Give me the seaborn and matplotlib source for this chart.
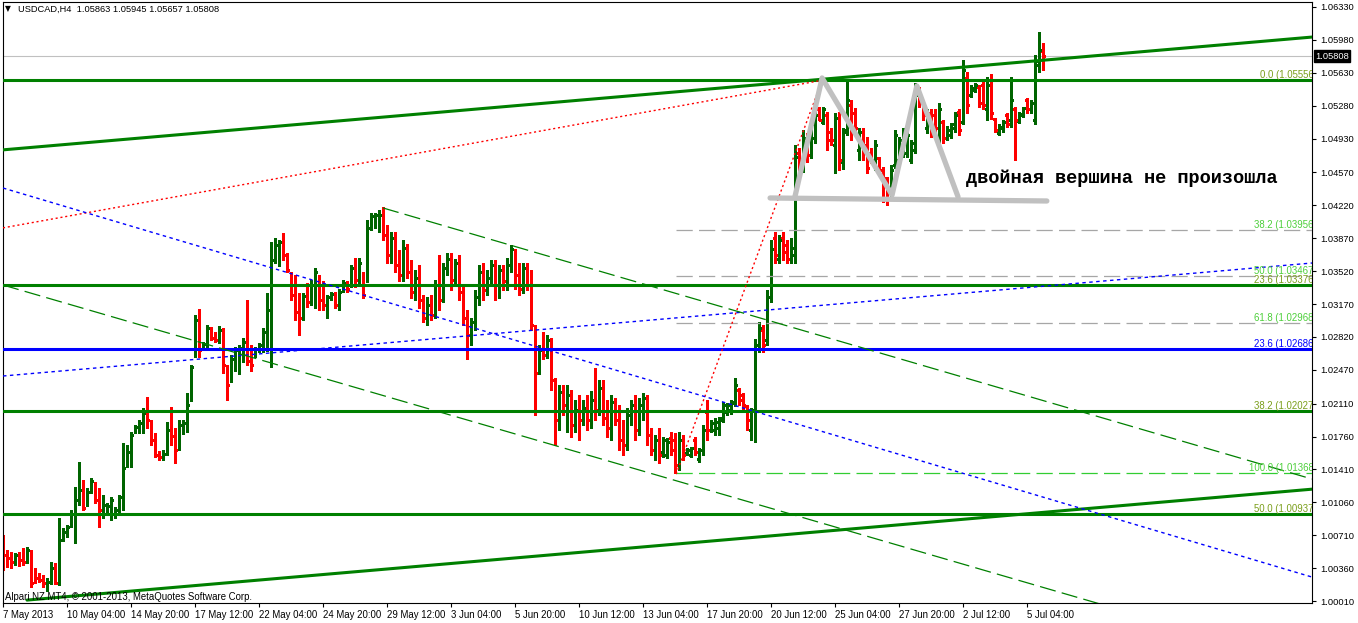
import matplotlib
matplotlib.use("Agg")
import matplotlib.pyplot as plt
import matplotlib.transforms as mtransforms
import seaborn as sns
import pandas as pd
import numpy as np

# USDCAD H4 bars (261 bars, left to right)
opens = [
    1.0066, 1.0053, 1.0050, 1.0041, 1.0051, 1.0055, 1.0045, 1.0053, 1.0032, 1.0029,
    1.0027, 1.0017, 1.0023, 1.0036, 1.0020, 1.0068, 1.0073, 1.0081, 1.0087, 1.0108,
    1.0121, 1.0105, 1.0118, 1.0126, 1.0114, 1.0096, 1.0096, 1.0093, 1.0093, 1.0098,
    1.0107, 1.0149, 1.0162, 1.0181, 1.0185, 1.0185, 1.0202, 1.0191, 1.0176, 1.0160,
    1.0152, 1.0160, 1.0194, 1.0181, 1.0167, 1.0183, 1.0188, 1.0218, 1.0263, 1.0302,
    1.0270, 1.0273, 1.0291, 1.0285, 1.0279, 1.0289, 1.0250, 1.0239, 1.0251, 1.0258,
    1.0260, 1.0273, 1.0270, 1.0263, 1.0268, 1.0268, 1.0273, 1.0279, 1.0365, 1.0361,
    1.0387, 1.0369, 1.0350, 1.0337, 1.0321, 1.0305, 1.0334, 1.0321, 1.0321, 1.0343,
    1.0337, 1.0308, 1.0322, 1.0328, 1.0314, 1.0332, 1.0339, 1.0337, 1.0361, 1.0343,
    1.0348, 1.0343, 1.0398, 1.0400, 1.0398, 1.0414, 1.0393, 1.0365, 1.0387, 1.0361,
    1.0345, 1.0374, 1.0353, 1.0330, 1.0348, 1.0321, 1.0302, 1.0316, 1.0305, 1.0337,
    1.0324, 1.0353, 1.0365, 1.0341, 1.0361, 1.0330, 1.0302, 1.0281, 1.0295, 1.0324,
    1.0353, 1.0332, 1.0343, 1.0359, 1.0333, 1.0353, 1.0337, 1.0355, 1.0369, 1.0351,
    1.0333, 1.0353, 1.0341, 1.0291, 1.0244, 1.0279, 1.0263, 1.0277, 1.0234, 1.0194,
    1.0226, 1.0204, 1.0220, 1.0188, 1.0210, 1.0194, 1.0210, 1.0191, 1.0231, 1.0204,
    1.0231, 1.0204, 1.0185, 1.0213, 1.0202, 1.0185, 1.0167, 1.0196, 1.0213, 1.0185,
    1.0202, 1.0215, 1.0181, 1.0160, 1.0178, 1.0160, 1.0156, 1.0174, 1.0172, 1.0146,
    1.0172, 1.0159, 1.0156, 1.0172, 1.0152, 1.0162, 1.0202, 1.0183, 1.0183, 1.0185,
    1.0196, 1.0202, 1.0204, 1.0212, 1.0226, 1.0220, 1.0208, 1.0183, 1.0204, 1.0273,
    1.0289, 1.0279, 1.0324, 1.0387, 1.0365, 1.0387, 1.0380, 1.0365, 1.0369, 1.0478,
    1.0462, 1.0494, 1.0476, 1.0494, 1.0524, 1.0511, 1.0518, 1.0500, 1.0486, 1.0515,
    1.0468, 1.0502, 1.0529, 1.0520, 1.0481, 1.0500, 1.0486, 1.0478, 1.0465, 1.0472,
    1.0460, 1.0451, 1.0436, 1.0465, 1.0470, 1.0481, 1.0478, 1.0470, 1.0481, 1.0545,
    1.0531, 1.0504, 1.0520, 1.0518, 1.0494, 1.0511, 1.0494, 1.0497, 1.0504, 1.0521,
    1.0511, 1.0557, 1.0539, 1.0545, 1.0548, 1.0550, 1.0524, 1.0555, 1.0514, 1.0499,
    1.0504, 1.0518, 1.0513, 1.0524, 1.0512, 1.0518, 1.0534, 1.0524, 1.0513, 1.0571,
    1.05863,
]
highs = [
    1.0071, 1.0055, 1.0053, 1.0052, 1.0053, 1.0057, 1.0058, 1.0055, 1.0036, 1.0031,
    1.0029, 1.0026, 1.0043, 1.0041, 1.0089, 1.0079, 1.0082, 1.0098, 1.0122, 1.0149,
    1.0130, 1.0121, 1.0132, 1.0128, 1.0121, 1.0114, 1.0105, 1.0112, 1.0101, 1.0114,
    1.0169, 1.0167, 1.0181, 1.0188, 1.0194, 1.0206, 1.0218, 1.0194, 1.0180, 1.0161,
    1.0162, 1.0191, 1.0207, 1.0185, 1.0194, 1.0194, 1.0222, 1.0252, 1.0305, 1.0312,
    1.0277, 1.0295, 1.0293, 1.0287, 1.0294, 1.0291, 1.0252, 1.0263, 1.0271, 1.0273,
    1.0281, 1.0321, 1.0273, 1.0271, 1.0276, 1.0291, 1.0329, 1.0383, 1.0387, 1.0385,
    1.0393, 1.0371, 1.0351, 1.0348, 1.0329, 1.0329, 1.0339, 1.0343, 1.0355, 1.0348,
    1.0341, 1.0327, 1.0330, 1.0330, 1.0333, 1.0343, 1.0341, 1.0359, 1.0366, 1.0366,
    1.0351, 1.0406, 1.0414, 1.0414, 1.0417, 1.0420, 1.0401, 1.0394, 1.0394, 1.0374,
    1.0385, 1.0381, 1.0364, 1.0353, 1.0359, 1.0327, 1.0324, 1.0327, 1.0343, 1.0369,
    1.0361, 1.0371, 1.0371, 1.0365, 1.0369, 1.0337, 1.0311, 1.0302, 1.0332, 1.0359,
    1.0361, 1.0353, 1.0364, 1.0364, 1.0359, 1.0359, 1.0366, 1.0380, 1.0375, 1.0361,
    1.0361, 1.0361, 1.0353, 1.0295, 1.0273, 1.0287, 1.0284, 1.0281, 1.0238, 1.0231,
    1.0231, 1.0231, 1.0226, 1.0215, 1.0220, 1.0215, 1.0220, 1.0224, 1.0249, 1.0236,
    1.0236, 1.0215, 1.0220, 1.0217, 1.0210, 1.0194, 1.0206, 1.0215, 1.0220, 1.0217,
    1.0222, 1.0220, 1.0185, 1.0178, 1.0185, 1.0175, 1.0174, 1.0181, 1.0180, 1.0181,
    1.0178, 1.0164, 1.0165, 1.0175, 1.0164, 1.0188, 1.0215, 1.0194, 1.0196, 1.0197,
    1.0213, 1.0212, 1.0215, 1.0238, 1.0228, 1.0222, 1.0210, 1.0206, 1.0280, 1.0298,
    1.0295, 1.0332, 1.0385, 1.0394, 1.0390, 1.0394, 1.0385, 1.0387, 1.0486, 1.0483,
    1.0502, 1.0499, 1.0514, 1.0524, 1.0527, 1.0527, 1.0521, 1.0504, 1.0520, 1.0521,
    1.0504, 1.0554, 1.0534, 1.0525, 1.0504, 1.0504, 1.0495, 1.0483, 1.0491, 1.0473,
    1.0463, 1.0452, 1.0465, 1.0502, 1.0495, 1.0504, 1.0502, 1.0491, 1.0552, 1.0548,
    1.0534, 1.0524, 1.0524, 1.0524, 1.0531, 1.0513, 1.0506, 1.0510, 1.0521, 1.0524,
    1.0577, 1.0564, 1.0550, 1.0552, 1.0550, 1.0555, 1.0558, 1.0562, 1.0515, 1.0508,
    1.0513, 1.0520, 1.0558, 1.0527, 1.0521, 1.0527, 1.0536, 1.0534, 1.0582, 1.0606,
    1.05945,
]
lows = [
    1.0034, 1.0037, 1.0036, 1.0039, 1.0038, 1.0039, 1.0041, 1.0016, 1.0020, 1.0021,
    1.0016, 1.0012, 1.0019, 1.0019, 1.0018, 1.0065, 1.0069, 1.0080, 1.0063, 1.0103,
    1.0098, 1.0102, 1.0116, 1.0105, 1.0080, 1.0089, 1.0093, 1.0087, 1.0089, 1.0095,
    1.0098, 1.0144, 1.0144, 1.0180, 1.0180, 1.0180, 1.0185, 1.0167, 1.0154, 1.0151,
    1.0151, 1.0156, 1.0167, 1.0148, 1.0162, 1.0179, 1.0181, 1.0214, 1.0261, 1.0261,
    1.0268, 1.0271, 1.0279, 1.0277, 1.0276, 1.0244, 1.0215, 1.0234, 1.0246, 1.0242,
    1.0255, 1.0252, 1.0246, 1.0261, 1.0266, 1.0266, 1.0267, 1.0250, 1.0361, 1.0357,
    1.0364, 1.0351, 1.0321, 1.0300, 1.0284, 1.0300, 1.0314, 1.0316, 1.0313, 1.0311,
    1.0311, 1.0302, 1.0321, 1.0313, 1.0311, 1.0330, 1.0330, 1.0335, 1.0335, 1.0337,
    1.0323, 1.0340, 1.0396, 1.0398, 1.0394, 1.0385, 1.0361, 1.0361, 1.0351, 1.0341,
    1.0341, 1.0345, 1.0323, 1.0321, 1.0313, 1.0298, 1.0295, 1.0300, 1.0302, 1.0311,
    1.0319, 1.0348, 1.0332, 1.0337, 1.0321, 1.0295, 1.0259, 1.0273, 1.0289, 1.0316,
    1.0321, 1.0327, 1.0337, 1.0321, 1.0323, 1.0332, 1.0332, 1.0351, 1.0333, 1.0327,
    1.0329, 1.0332, 1.0289, 1.0199, 1.0242, 1.0258, 1.0260, 1.0226, 1.0167, 1.0183,
    1.0199, 1.0181, 1.0175, 1.0181, 1.0172, 1.0188, 1.0183, 1.0185, 1.0194, 1.0199,
    1.0188, 1.0175, 1.0172, 1.0188, 1.0162, 1.0156, 1.0162, 1.0188, 1.0172, 1.0178,
    1.0194, 1.0167, 1.0156, 1.0151, 1.0148, 1.0154, 1.0153, 1.0156, 1.0137, 1.0140,
    1.0151, 1.0156, 1.0154, 1.0156, 1.0149, 1.0156, 1.0172, 1.0181, 1.0178, 1.0178,
    1.0191, 1.0199, 1.0200, 1.0208, 1.0210, 1.0202, 1.0183, 1.0172, 1.0170, 1.0266,
    1.0266, 1.0273, 1.0319, 1.0361, 1.0361, 1.0364, 1.0361, 1.0361, 1.0361, 1.0452,
    1.0457, 1.0468, 1.0472, 1.0488, 1.0513, 1.0508, 1.0481, 1.0486, 1.0456, 1.0460,
    1.0461, 1.0497, 1.0491, 1.0497, 1.0470, 1.0470, 1.0456, 1.0467, 1.0460, 1.0456,
    1.0425, 1.0422, 1.0431, 1.0462, 1.0467, 1.0473, 1.0473, 1.0467, 1.0478, 1.0527,
    1.0513, 1.0499, 1.0495, 1.0495, 1.0488, 1.0488, 1.0491, 1.0494, 1.0500, 1.0497,
    1.0508, 1.0520, 1.0537, 1.0543, 1.0527, 1.0524, 1.0513, 1.0514, 1.0500, 1.0497,
    1.0500, 1.0505, 1.0505, 1.0470, 1.0510, 1.0516, 1.0520, 1.0520, 1.0508, 1.0564,
    1.05657,
]
closes = [
    1.0050, 1.0047, 1.0043, 1.0050, 1.0045, 1.0043, 1.0055, 1.0020, 1.0026, 1.0023,
    1.0020, 1.0021, 1.0036, 1.0020, 1.0066, 1.0074, 1.0080, 1.0094, 1.0108, 1.0119,
    1.0100, 1.0117, 1.0129, 1.0108, 1.0098, 1.0103, 1.0102, 1.0108, 1.0098, 1.0112,
    1.0143, 1.0160, 1.0178, 1.0186, 1.0190, 1.0201, 1.0194, 1.0172, 1.0156, 1.0154,
    1.0157, 1.0183, 1.0177, 1.0162, 1.0188, 1.0190, 1.0210, 1.0250, 1.0300, 1.0268,
    1.0274, 1.0291, 1.0281, 1.0279, 1.0289, 1.0252, 1.0231, 1.0258, 1.0268, 1.0270,
    1.0277, 1.0256, 1.0252, 1.0269, 1.0273, 1.0287, 1.0311, 1.0364, 1.0380, 1.0383,
    1.0369, 1.0353, 1.0327, 1.0309, 1.0302, 1.0326, 1.0319, 1.0337, 1.0351, 1.0321,
    1.0316, 1.0324, 1.0328, 1.0316, 1.0330, 1.0339, 1.0333, 1.0355, 1.0343, 1.0361,
    1.0327, 1.0398, 1.0411, 1.0412, 1.0412, 1.0390, 1.0369, 1.0387, 1.0358, 1.0348,
    1.0377, 1.0351, 1.0330, 1.0345, 1.0321, 1.0302, 1.0316, 1.0305, 1.0337, 1.0321,
    1.0355, 1.0365, 1.0343, 1.0361, 1.0330, 1.0302, 1.0284, 1.0298, 1.0324, 1.0351,
    1.0332, 1.0345, 1.0359, 1.0337, 1.0353, 1.0341, 1.0359, 1.0375, 1.0348, 1.0333,
    1.0355, 1.0337, 1.0295, 1.0244, 1.0268, 1.0263, 1.0279, 1.0236, 1.0194, 1.0223,
    1.0210, 1.0220, 1.0188, 1.0204, 1.0194, 1.0206, 1.0194, 1.0215, 1.0204, 1.0228,
    1.0196, 1.0185, 1.0213, 1.0194, 1.0172, 1.0167, 1.0199, 1.0210, 1.0183, 1.0210,
    1.0217, 1.0178, 1.0162, 1.0172, 1.0156, 1.0172, 1.0170, 1.0162, 1.0146, 1.0172,
    1.0156, 1.0162, 1.0164, 1.0160, 1.0162, 1.0183, 1.0183, 1.0190, 1.0191, 1.0194,
    1.0210, 1.0210, 1.0213, 1.0231, 1.0215, 1.0210, 1.0194, 1.0204, 1.0273, 1.0291,
    1.0273, 1.0324, 1.0375, 1.0369, 1.0385, 1.0372, 1.0365, 1.0377, 1.0473, 1.0460,
    1.0494, 1.0476, 1.0508, 1.0518, 1.0513, 1.0524, 1.0491, 1.0491, 1.0515, 1.0470,
    1.0500, 1.0534, 1.0502, 1.0504, 1.0500, 1.0481, 1.0462, 1.0470, 1.0486, 1.0460,
    1.0446, 1.0430, 1.0460, 1.0497, 1.0491, 1.0500, 1.0497, 1.0488, 1.0539, 1.0534,
    1.0518, 1.0518, 1.0502, 1.0504, 1.0524, 1.0494, 1.0502, 1.0508, 1.0518, 1.0502,
    1.0566, 1.0529, 1.0547, 1.0550, 1.0531, 1.0529, 1.0550, 1.0520, 1.0502, 1.0505,
    1.0511, 1.0508, 1.0534, 1.0513, 1.0519, 1.0526, 1.0524, 1.0531, 1.0575, 1.0587,
    1.05808,
]

# time axis labels (every 16 bars)
x_label_bars = [0, 16, 32, 48, 64, 80, 96, 112, 128, 144, 160, 176, 192, 208, 224, 240, 256]
x_labels = ["7 May 2013", "10 May 04:00", "14 May 20:00", "17 May 12:00", "22 May 04:00",
            "24 May 20:00", "29 May 12:00", "3 Jun 04:00", "5 Jun 20:00", "10 Jun 12:00",
            "13 Jun 04:00", "17 Jun 20:00", "20 Jun 12:00", "25 Jun 04:00", "27 Jun 20:00",
            "2 Jul 12:00", "5 Jul 04:00"]
y_ticks = [1.06330, 1.05980, 1.05630, 1.05280, 1.04930, 1.04570, 1.04220, 1.03870,
           1.03520, 1.03170, 1.02820, 1.02470, 1.02110, 1.01760, 1.01410, 1.01060,
           1.00710, 1.00360, 1.00010]
last_price = 1.05808

# horizontal fibo levels: label, price
fib_solid = [("0.0 (1.05556)", 1.05556), ("23.6 (1.03376)", 1.03376),
             ("38.2 (1.02027)", 1.02027), ("50.0 (1.00937)", 1.00937)]
fib_blue = [("23.6 (1.02686)", 1.02686)]
fib_dashed = [("38.2 (1.03956)", 1.03956), ("50.0 (1.03467)", 1.03467),
              ("61.8 (1.02968)", 1.02968)]
fib_hundred = [("100.0 (1.01368)", 1.01368)]
fib_start_bar = 168.2

# trend lines: (bars, prices)
upper_trend = ([-0.1, 327.2], [1.0481, 1.0601])
lower_trend = ([5.9, 327.2], [1.0002, 1.0120])
red_slow = ([-0.1, 204.7], [1.0398, 1.0555])
red_fast = ([168.2, 204.7], [1.0136, 1.0555])
blue_down = ([-0.1, 327.2], [1.04404, 1.00265])
blue_up = ([-0.1, 327.2], [1.02404, 1.03606])
green_dash_upper = ([94.9, 327.2], [1.04192, 1.01308])
green_dash_lower = ([-0.1, 327.2], [1.03372, 0.99323])

# hand drawn double-top sketch
neck_bars = [191.7, 260.9]
neck_prices = [1.04298, 1.04266]
zig_bars = [197.9, 204.7, 222.2, 228.4, 238.7]
zig_prices = [1.04309, 1.05575, 1.04330, 1.05490, 1.04310]

sns.set_theme(style="white")
plt.rcParams["font.family"] = ["Liberation Sans", "DejaVu Sans"]

W, H = 1358, 623
fig = plt.figure(figsize=(W / 100, H / 100), dpi=100)
fig.patch.set_facecolor("white")
ax = fig.add_axes([3 / W, 20 / H, 1309 / W, 601 / H])
ax.set_facecolor("white")

df = pd.DataFrame({"open": opens, "high": highs, "low": lows, "close": closes})
df["bar"] = np.arange(len(df))
colors = np.where(df["close"] >= df["open"], "#006400", "#ff0000")

# overlay objects
GREEN = "#008000"
for lab, p in fib_solid:
    ax.axhline(p, color=GREEN, lw=2.2, zorder=3)
for lab, p in fib_blue:
    ax.axhline(p, color="#0000ff", lw=2.2, zorder=3)
for lab, p in fib_dashed:
    ax.hlines(p, fib_start_bar, 330, color="#a6a6a6", lw=0.9, ls=(0, (13, 5)), zorder=3)
for lab, p in fib_hundred:
    ax.hlines(p, fib_start_bar, 330, color="#32cd32", lw=0.9, ls=(0, (13, 5)), zorder=3)

ax.axhline(last_price, color="#c0c0c0", lw=0.8, zorder=1)

for xs, ys in (upper_trend, lower_trend):
    ax.plot(xs, ys, color=GREEN, lw=2.2, zorder=3)
for xs, ys in (red_slow, red_fast):
    ax.plot(xs, ys, color="#ff0000", lw=1.0, ls=(0, (1.5, 2)), zorder=3)
for xs, ys in (blue_down, blue_up):
    ax.plot(xs, ys, color="#0000ff", lw=1.0, ls=(0, (2.5, 2.5)), zorder=3)
for xs, ys in (green_dash_upper, green_dash_lower):
    ax.plot(xs, ys, color=GREEN, lw=0.9, ls=(0, (13, 5)), zorder=3)

# OHLC bars
ax.vlines(df["bar"], df["low"], df["high"], colors=colors, lw=0.75, zorder=2, antialiased=False)
ax.hlines(df["open"], df["bar"] - 0.45, df["bar"], colors=colors, lw=0.75, zorder=2, antialiased=False)
ax.hlines(df["close"], df["bar"], df["bar"] + 0.45, colors=colors, lw=0.75, zorder=2, antialiased=False)

# double top sketch
sketch = pd.DataFrame({"bar": zig_bars, "price": zig_prices})
sns.lineplot(data=sketch, x="bar", y="price", sort=False, color="#c0c0c0", lw=3.8,
             ax=ax, zorder=4, estimator=None)
ax.plot(neck_bars, neck_prices, color="#c0c0c0", lw=3.8, zorder=4, solid_capstyle="round")

ax.text(240.7, 1.04511, "двойная вершина не произошла", fontsize=13.4, fontweight="bold",
        family=["Liberation Mono", "DejaVu Sans Mono"], color="black", ha="left", va="center",
        zorder=6)

# fibo level labels, clipped at the chart edge
lbl_x = 328.4
for lab, p in fib_solid:
    ax.text(lbl_x, p, lab, fontsize=6.9, color="#7a9e1a", ha="right", va="bottom", clip_on=True, zorder=5)
for lab, p in fib_blue:
    ax.text(lbl_x, p, lab, fontsize=6.9, color="#0000ff", ha="right", va="bottom", clip_on=True, zorder=5)
for lab, p in fib_dashed + fib_hundred:
    ax.text(lbl_x, p, lab, fontsize=6.9, color="#4ccf3a", ha="right", va="bottom", clip_on=True, zorder=5)

ax.set_xlim(-0.1, 327.2)
ax.set_ylim(0.99989, 1.06383)

ax.yaxis.tick_right()
ax.set_yticks(y_ticks)
ax.set_yticklabels([f"{v:.5f}" for v in y_ticks], fontsize=6.7)
ax.set_xticks(x_label_bars)
ax.set_xticklabels(x_labels, fontsize=6.9, ha="left")
offset = mtransforms.ScaledTranslation(2 / 100, 0, fig.dpi_scale_trans)
for t in ax.get_xticklabels():
    t.set_transform(t.get_transform() + offset)
ax.tick_params(axis="both", direction="out", length=3, width=0.8, color="black",
               labelcolor="black", pad=2)
ax.tick_params(axis="y", right=True, left=False, pad=3)
ax.tick_params(axis="x", bottom=True)
for s in ax.spines.values():
    s.set_color("black")
    s.set_linewidth(0.8)
ax.set_xlabel("")
ax.set_ylabel("")
ax.grid(False)

# current price box on the price scale
trans = mtransforms.blended_transform_factory(ax.transAxes, ax.transData)
ax.text(1.0 + 3 / 1309, last_price, f"{last_price:.5f}", transform=trans, fontsize=6.7,
        color="white", ha="left", va="center", clip_on=False,
        bbox=dict(boxstyle="square,pad=0.15", fc="black", ec="black"), zorder=7)

fig.text(5 / W, 1 - 9 / H, "\u25bc", fontsize=5.5, color="black", va="center",
         family=["DejaVu Sans"])
fig.text(18 / W, 1 - 9 / H, "USDCAD,H4  1.05863 1.05945 1.05657 1.05808", fontsize=6.7,
         color="black", va="center")
fig.text(5 / W, 1 - 597 / H, "Alpari NZ MT4, \u00a9 2001-2013, MetaQuotes Software Corp.",
         fontsize=6.9, color="black", va="center")

fig.savefig("out.png", dpi=100, facecolor="white")
